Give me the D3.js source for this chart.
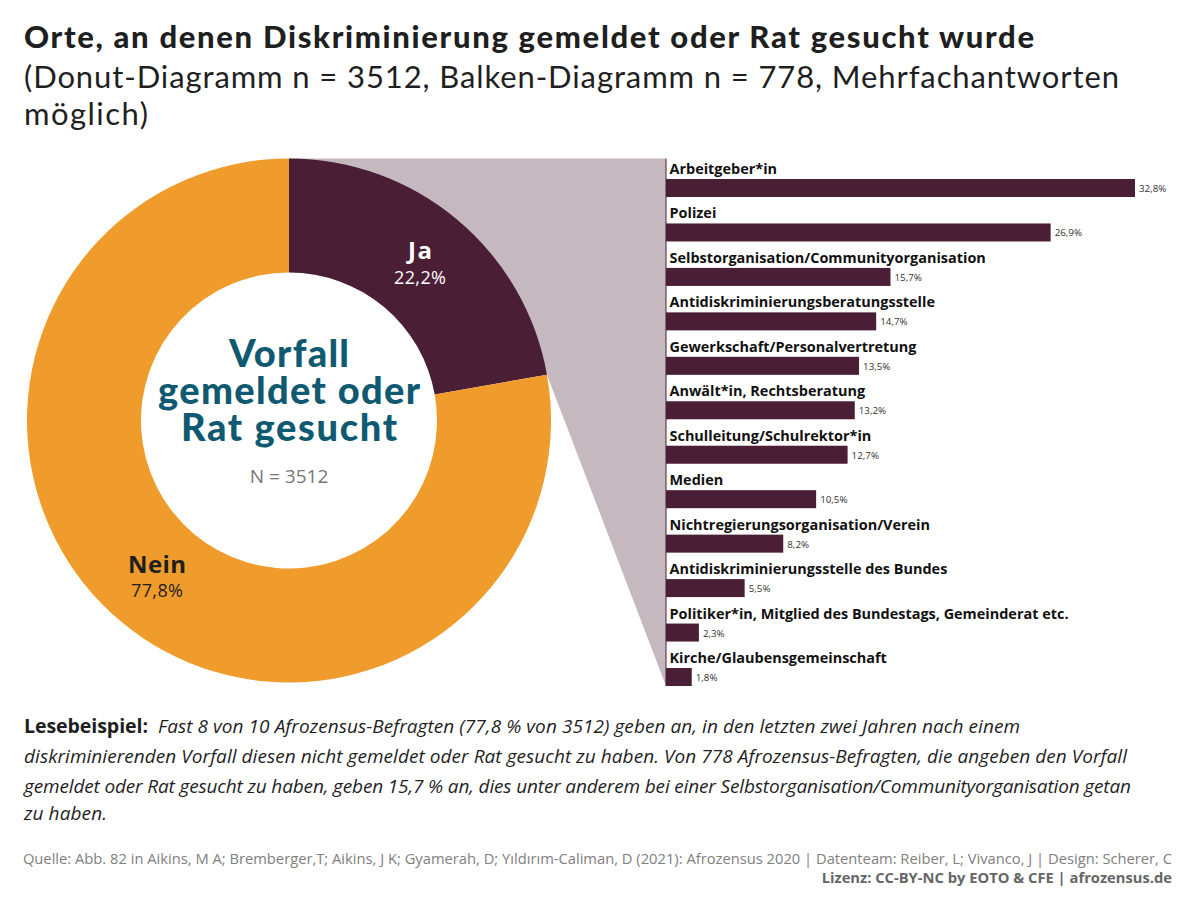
<!DOCTYPE html>
<html lang="de"><head><meta charset="utf-8">
<script src="https://cdn.jsdelivr.net/npm/d3@7/dist/d3.min.js"></script>
<style>html,body{margin:0;padding:0;background:#fff}svg{display:block}text{font-family:"Open Sans",sans-serif}</style>
</head><body><svg id="c" width="1200" height="906" viewBox="0 0 1200 906"></svg>
<script>
const donutLabels = ["Ja","Nein"];
const donutValues = [22.2,77.8];
const barCategories = ["Arbeitgeber*in","Polizei","Selbstorganisation/Communityorganisation","Antidiskriminierungsberatungsstelle","Gewerkschaft/Personalvertretung","Anwält*in, Rechtsberatung","Schulleitung/Schulrektor*in","Medien","Nichtregierungsorganisation/Verein","Antidiskriminierungsstelle des Bundes","Politiker*in, Mitglied des Bundestags, Gemeinderat etc.","Kirche/Glaubensgemeinschaft"];
const barValues = [32.8,26.9,15.7,14.7,13.5,13.2,12.7,10.5,8.2,5.5,2.3,1.8];
const fmt = v => String(v).replace(".",",");
const C = {dark:"#4a1e35",orange:"#f09c2c",wedge:"#c5b8bf",teal:"#0f5a70",ink:"#1f1f1f",grey:"#777"};
const svg = d3.select("#c");
const HEAD = "Lato, sans-serif";

const T = (x,y,s,size,o={})=>svg.append("text").attr("x",x).attr("y",y).text(s).attr("font-size",size)
  .attr("fill",o.fill||C.ink).attr("font-weight",o.w||400).attr("font-style",o.i||"normal")
  .attr("text-anchor",o.a||"start").style("font-family",o.f||null)
  .call(t=>{if(o.len){t.attr("textLength",o.len).attr("lengthAdjust","spacing")}});

T(24,48,"Orte, an denen Diskriminierung gemeldet oder Rat gesucht wurde",31,{w:900,f:HEAD,len:1010});
T(24,88,"(Donut-Diagramm n = 3512, Balken-Diagramm n = 778, Mehrfachantworten",31,{f:HEAD,len:1095});
T(24,125,"möglich)",31,{f:HEAD,len:124});

const cx=289,cy=420.5,R=262,r=148;
const pie=d3.pie().sort(null).value(d=>d)(donutValues);
const arc=d3.arc().innerRadius(r).outerRadius(R);

const x=d3.scaleLinear().domain([0,32.8]).range([666,1135]);
const y=d3.scaleBand().domain(barCategories).range([152.55,686]).paddingInner(0).paddingOuter(0);
const barH=18;

const endA=pie[0].endAngle;
const path=d3.path();
path.moveTo(cx,cy-R);
path.lineTo(x(0),cy-R);
path.lineTo(x(0),y.range()[1]);
path.lineTo(cx+R*Math.sin(endA),cy-R*Math.cos(endA));
path.closePath();
svg.append("path").attr("d",path.toString()).attr("fill",C.wedge);

const g=svg.append("g").attr("transform",`translate(${cx},${cy})`);
g.selectAll("path").data(pie).join("path").attr("d",arc).attr("fill",(d,i)=>i?C.orange:C.dark);

T(420,259,donutLabels[0],24,{w:700,a:"middle",fill:"#fff",len:24});
T(420,284,fmt(donutValues[0])+"%",18,{a:"middle",fill:"#fff",len:52});
T(157,573,donutLabels[1],24,{w:700,a:"middle",len:58});
T(157,597,fmt(donutValues[1])+"%",18,{a:"middle",len:52});

T(289,367,"Vorfall",38,{w:900,a:"middle",f:HEAD,fill:C.teal,len:120});
T(289,404,"gemeldet oder",38,{w:900,a:"middle",f:HEAD,fill:C.teal,len:262});
T(289,441,"Rat gesucht",38,{w:900,a:"middle",f:HEAD,fill:C.teal,len:216});
T(289,483,"N = 3512",19,{a:"middle",fill:C.grey});

svg.append("line").attr("x1",x(0)).attr("x2",x(0)).attr("y1",cy-R).attr("y2",y.range()[1]).attr("stroke","#4a1e35").attr("stroke-width",1);
const rows=svg.append("g").selectAll("g").data(barCategories).join("g");
rows.append("rect").attr("x",x(0)).attr("y",c=>y(c)+y.bandwidth()-barH).attr("height",barH)
  .attr("width",(c,i)=>x(barValues[i])-x(0)).attr("fill",C.dark);
rows.append("text").attr("x",x(0)+3.5).attr("y",c=>y(c)+y.bandwidth()-barH-5).text(c=>c)
  .attr("font-size",14.45).attr("font-weight",700).attr("fill","#111");
rows.append("text").attr("x",(c,i)=>x(barValues[i])+4).attr("y",c=>y(c)+y.bandwidth()-barH+13).text((c,i)=>fmt(barValues[i])+"%")
  .attr("font-size",9.8).attr("fill","#333");

T(24,733,"Lesebeispiel:",19.6,{w:700,len:124});
T(158,733,"Fast 8 von 10 Afrozensus-Befragten (77,8 % von 3512) geben an, in den letzten zwei Jahren nach einem",19,{i:"italic",len:862});
T(24,763,"diskriminierenden Vorfall diesen nicht gemeldet oder Rat gesucht zu haben. Von 778 Afrozensus-Befragten, die angeben den Vorfall",19,{i:"italic",len:1103});
T(24,793,"gemeldet oder Rat gesucht zu haben, geben 15,7 % an, dies unter anderem bei einer Selbstorganisation/Communityorganisation getan",19,{i:"italic",len:1107});
T(24,820,"zu haben.",19,{i:"italic",len:83});

T(1172,864,"Quelle: Abb. 82 in Aikins, M A; Bremberger,T; Aikins, J K; Gyamerah, D; Yıldırım-Caliman, D (2021): Afrozensus 2020 | Datenteam: Reiber, L; Vivanco, J | Design: Scherer, C",14.72,{a:"end",fill:"#808080"});
T(1172,883,"Lizenz: CC-BY-NC by EOTO & CFE | afrozensus.de",14.72,{a:"end",w:700,fill:"#666"});
</script></body></html>
